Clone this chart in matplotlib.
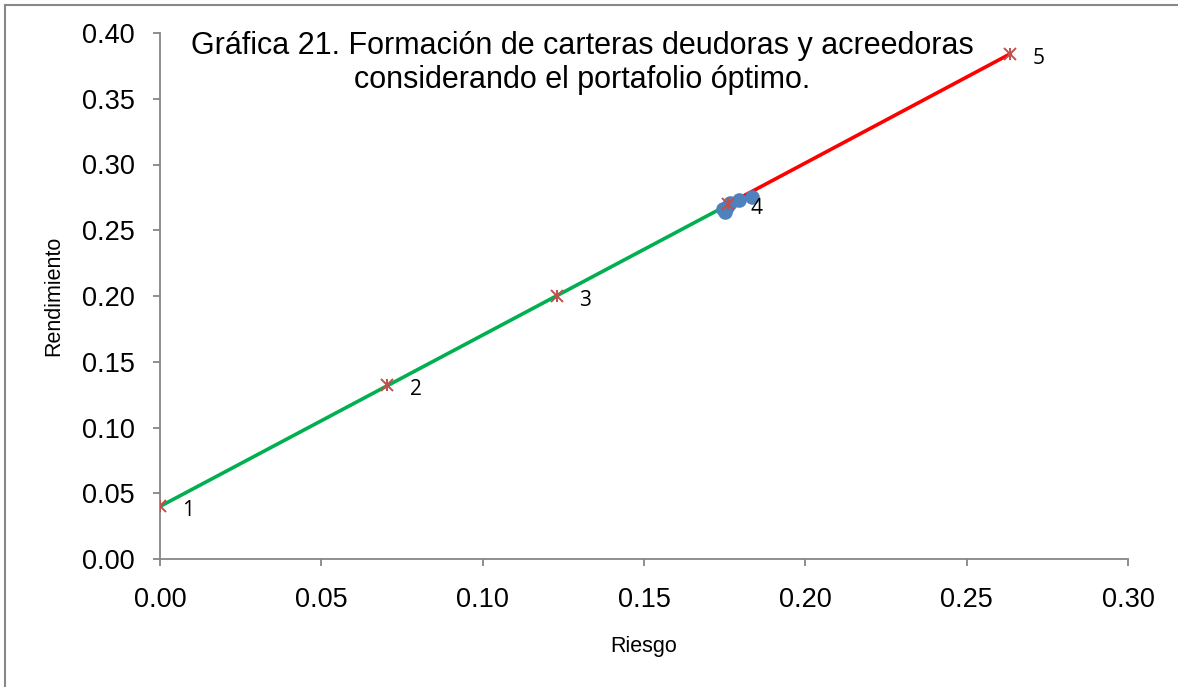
import matplotlib.pyplot as plt
from matplotlib.lines import Line2D

# datos
riesgo_pts = [0.0, 0.0705, 0.123, 0.176, 0.2634]
rend_pts = [0.040, 0.132, 0.200, 0.270, 0.384]
etiquetas = ["1", "2", "3", "4", "5"]

# frontera (puntos azules)
riesgo_front = [0.1745, 0.1750, 0.1758, 0.1766, 0.1794, 0.1835]
rend_front = [0.2665, 0.2640, 0.2680, 0.2705, 0.2730, 0.2755]

# cartera deudora (verde) y acreedora (rojo)
riesgo_verde = [0.0, 0.175]
rend_verde = [0.040, 0.268]
riesgo_rojo = [0.180, 0.2634]
rend_rojo = [0.275, 0.384]

plt.rcParams['font.family'] = ['Liberation Sans', 'DejaVu Sans']

fig = plt.figure(figsize=(11.78, 6.87), dpi=100)
ax = fig.add_axes([160/1178, 1 - 559/687, (1128-160)/1178, (559-33)/687])

ax.plot(riesgo_verde, rend_verde, color="#00B050", lw=2.6, zorder=2)
ax.plot(riesgo_rojo, rend_rojo, color="#FF0000", lw=2.6, zorder=2)
ax.plot(riesgo_front, rend_front, 'o', color="#4F81BD", ms=9.5, zorder=3)
ax.plot(riesgo_pts, rend_pts, 'x', color="#C0504D", ms=8, mew=1.4, zorder=4)
ax.plot(riesgo_pts, rend_pts, '|', color="#C0504D", ms=9, mew=1.4, zorder=4)

for x, y, t in zip(riesgo_pts, rend_pts, etiquetas):
    ax.annotate(t, (x, y), xytext=(16, -3), textcoords='offset points',
                va='center', ha='left', fontsize=15, family='Open Sans')

ax.set_xlim(0, 0.30)
ax.set_ylim(0, 0.40)
ax.set_xticks([0, 0.05, 0.10, 0.15, 0.20, 0.25, 0.30])
ax.set_yticks([0, 0.05, 0.10, 0.15, 0.20, 0.25, 0.30, 0.35, 0.40])
ax.xaxis.set_major_formatter(plt.FormatStrFormatter('%.2f'))
ax.yaxis.set_major_formatter(plt.FormatStrFormatter('%.2f'))
ax.tick_params(direction='out', length=5, width=1.3, color="#868686",
               labelsize=19.5, pad=13)
ax.tick_params(axis='x', pad=15)

ax.spines['top'].set_visible(False)
ax.spines['right'].set_visible(False)
for s in ['left', 'bottom']:
    ax.spines[s].set_color("#868686")
    ax.spines[s].set_linewidth(1.3)

ax.set_xlabel("Riesgo", fontsize=15.5, labelpad=17)
ax.set_ylabel("Rendimiento", fontsize=15.5, labelpad=13)

fig.text(582/1178, 1 - 63/687,
         "Gráfica 21. Formación de carteras deudoras y acreedoras\nconsiderando el portafolio óptimo.",
         ha='center', va='center', fontsize=22, linespacing=1.2)

# marco exterior
fig.add_artist(Line2D([5/1178, 5/1178], [0, 1 - 5/687], color="#888888", lw=1.5))
fig.add_artist(Line2D([5/1178, 1], [1 - 5/687, 1 - 5/687], color="#888888", lw=1.5))

plt.savefig("out.png", dpi=100, facecolor="white")
